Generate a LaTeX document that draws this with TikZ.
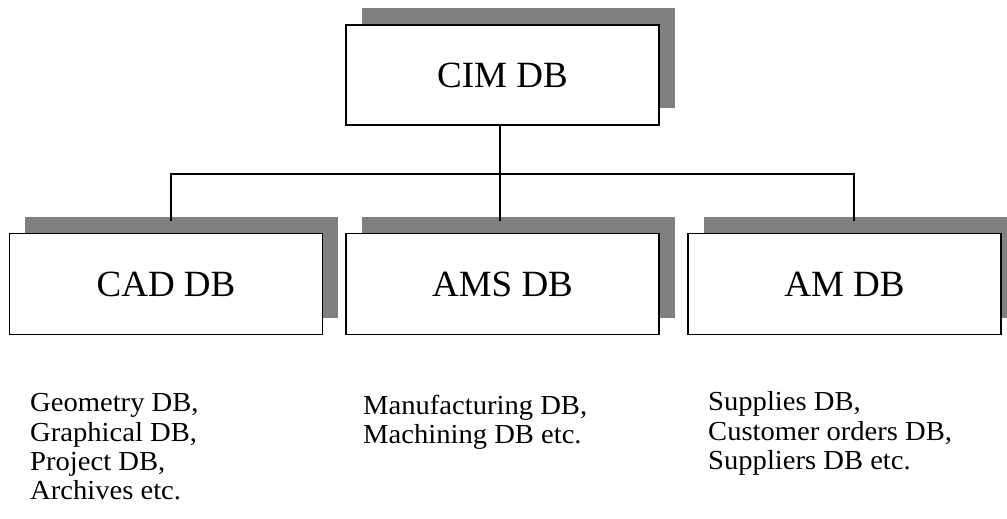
\documentclass[tikz,border=0pt]{standalone}
\usepackage{fontspec}
\setmainfont{Liberation Serif}
\newfontfamily\listfont[FakeStretch=1.04]{Liberation Serif}
\usetikzlibrary{shadows}
\definecolor{shadowgray}{RGB}{128,128,128}
\begin{document}
\begin{tikzpicture}[x=1pt,y=-1pt,
  dbbox/.style={draw=black, line width=1.3pt, fill=white, inner sep=0pt,
    minimum width=313pt, minimum height=101pt,
    general shadow={fill=shadowgray, shadow xshift=15.5pt, shadow yshift=17pt},
    font=\fontsize{37}{41}\selectfont},
  conn/.style={draw=black, line width=1.3pt},
  listtext/.style={inner sep=0pt, align=left, anchor=north west,
    font=\listfont\fontsize{27.5}{29.3}\selectfont}]
\clip (0,0) rectangle (1007,519);
\fill[white] (0,0) rectangle (1007,519);
\node[dbbox, minimum height=100pt] (cim) at (502.5,75) {CIM DB};
\node[dbbox] (cad) at (166,284) {CAD DB};
\node[dbbox] (ams) at (502.5,284) {AMS DB};
\node[dbbox] (am) at (844.5,284) {AM DB};
\coordinate (j) at (500,174);
\coordinate (cadend) at (171,221);
\coordinate (amsend) at (500,221);
\coordinate (amend) at (854,221);
\draw[conn] (j |- cim.south) -- (amsend);
\draw[conn] (cadend) |- (j) -| (amend);
\node[listtext] (cadlist) at (30,393.5) {Geometry DB,\\Graphical DB,\\Project DB,\\Archives etc.};
\node[listtext] (amslist) at (363,394.5) {Manufacturing DB,\\Machining DB etc.};
\node[listtext] (amlist) at (708,391.5) {Supplies DB,\\Customer orders DB,\\Suppliers DB etc.};
\end{tikzpicture}
\end{document}
